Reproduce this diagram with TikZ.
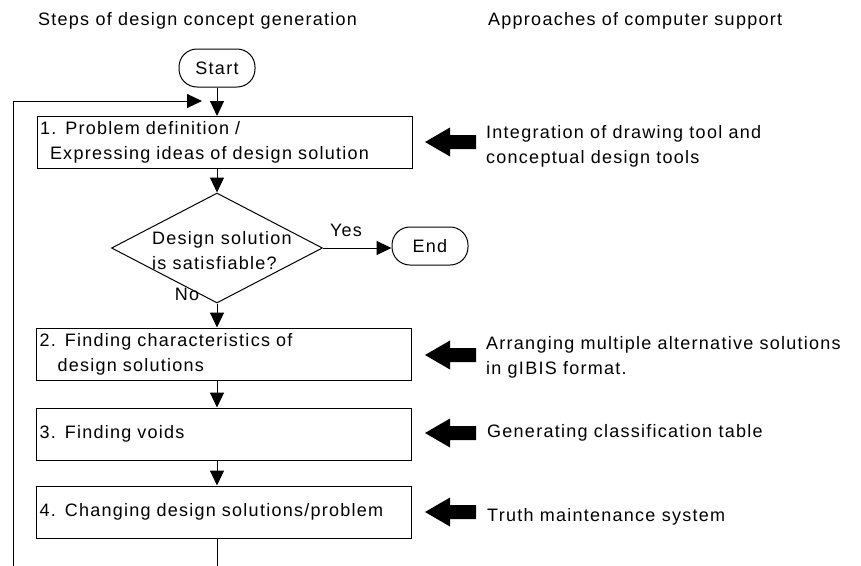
\documentclass[tikz,border=0pt]{standalone}
\usepackage{fontspec}
\setmainfont{Liberation Sans}[LetterSpace=7]
\usetikzlibrary{arrows.meta,shapes.geometric}
\begin{document}
\begin{tikzpicture}[x=1pt,y=-1pt,
  font=\fontsize{18}{25}\selectfont,
  proc/.style={draw, line width=1pt, minimum width=375pt, minimum height=52pt,
    text width=369pt, inner xsep=3pt, inner ysep=0pt, align=left},
  term/.style={draw, line width=1pt, rounded corners=18pt, minimum width=76pt, minimum height=38pt},
  flow/.style={line width=1pt, -{Triangle[width=14pt,length=15pt]}},
  plain/.style={line width=1pt},
  bigarrow/.style={fill=black},
  txt/.style={anchor=west, align=left, inner sep=0pt}]
\useasboundingbox (0,0) rectangle (861,565);

% titles
\node[txt] (t1) at (38,21) {Steps of design concept generation};
\node[txt] (t2) at (488,21) {Approaches of computer support};

% flow nodes
\node[term] (start) at (217,68) {Start};
\node[proc] (b1) at (224.5,142.5) {1. Problem definition /\\\hspace*{10pt}Expressing ideas of design solution};
\node[diamond, draw, line width=1pt, minimum width=211pt, minimum height=110pt, inner sep=0pt] (dec) at (217,248) {};
\node[txt] (dectext) at (152,250.5) {Design solution\\is satisfiable?};
\node[term] (end) at (430,246) {End};
\node[proc] (b2) at (224,354) {2. Finding characteristics of\\\hspace*{18pt}design solutions};
\node[proc] (b3) at (224,434) {3. Finding voids};
\node[proc] (b4) at (224,512) {4. Changing design solutions/problem};

% labels
\node[inner sep=0pt] (yes) at (346,230) {Yes};
\node[inner sep=0pt] (no) at (187,294) {No};

% connectors
\draw[flow] (start.south) -- (start.south |- b1.north);
\draw[flow] (dec.north |- b1.south) -- (dec.north);
\draw[flow] (dec.east) -- (dec.east -| end.west);
\draw[flow] (dec.south) -- (dec.south |- b2.north);
\draw[flow] (dec.south |- b2.south) -- (dec.south |- b3.north);
\draw[flow] (dec.south |- b3.south) -- (dec.south |- b4.north);
\coordinate (bot) at (217,566);
\draw[plain] (dec.south |- b4.south) -- (bot);
\coordinate (lb) at (13,566);
\coordinate (lt) at (13,101);
\coordinate (lend) at (202,101);
\draw[flow] (lb) -- (lt) -- (lend);

% big arrows and approaches
\foreach \yy/\nm in {142/a1,355/a2,433/a3,512/a4}{
  \coordinate (\nm) at (425,\yy);
  \fill[bigarrow] (\nm) -- ++(25,-14.5) -- ++(0,7.5) -- ++(26,0) -- ++(0,14)
    -- ++(-26,0) -- ++(0,7.5) -- cycle;
}
\node[txt] (r1) at (486,146) {Integration of drawing tool and\\conceptual design tools};
\node[txt] (r2) at (486,357.5) {Arranging multiple alternative solutions\\in gIBIS format.};
\node[txt] (r3) at (487,433) {Generating classification table};
\node[txt] (r4) at (487,517) {Truth maintenance system};
\end{tikzpicture}
\end{document}
